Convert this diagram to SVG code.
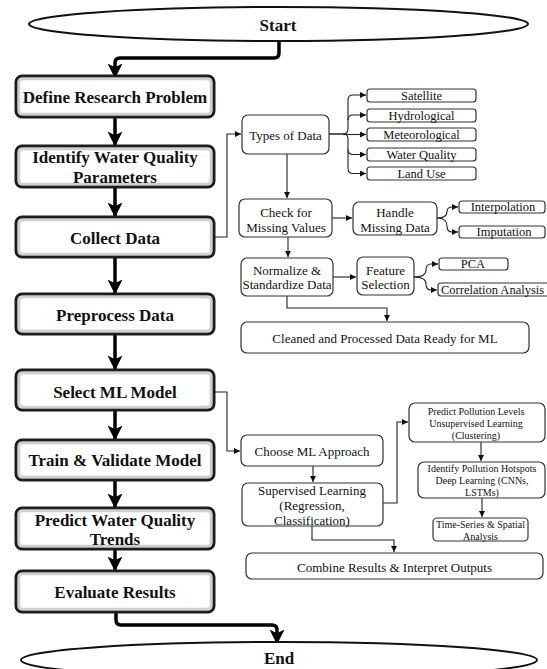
<svg xmlns="http://www.w3.org/2000/svg" width="547" height="669" viewBox="0 0 547 669">
<style>
.main rect.o{fill:#fff;stroke:#1e1e1e;stroke-width:3}
.main rect.i{fill:none;stroke:#cfcfcf;stroke-width:2.5}
.main text{font-family:"Liberation Serif",serif;font-weight:bold;font-size:17px;fill:#111;text-anchor:middle;dominant-baseline:central}
.term ellipse{fill:#fff;stroke:#111;stroke-width:2}
.term text{font-family:"Liberation Serif",serif;font-weight:bold;font-size:17px;fill:#111;text-anchor:middle;dominant-baseline:central}
.sub rect{fill:#fff;stroke:#333;stroke-width:1.2}
.sub text{font-family:"Liberation Serif",serif;font-size:13px;fill:#111;text-anchor:middle;dominant-baseline:central}
.sub text.s{font-size:12.5px}
.sub text.xs{font-size:10px}
.thick{fill:none;stroke:#000;stroke-width:3.5;marker-end:url(#big)}
.thin{fill:none;stroke:#222;stroke-width:1.1;marker-end:url(#sm)}
.thin2{fill:none;stroke:#222;stroke-width:1.1}
</style>
<defs>
<marker id="big" viewBox="0 0 10 10" refX="9" refY="5" markerWidth="15" markerHeight="15" markerUnits="userSpaceOnUse" orient="auto">
<path d="M0,0 L10,5 L0,10 L2.5,5 z" fill="#000"/>
</marker>
<marker id="sm" viewBox="0 0 10 10" refX="10" refY="5" markerWidth="6" markerHeight="6" markerUnits="userSpaceOnUse" orient="auto">
<path d="M0,0 L10,5 L0,10 z" fill="#111"/>
</marker>
</defs>

<g id="connectors">
<path class="thick" d="M279,41 V53 Q279,58 274,58 H120 Q115,58 115,63 V77"/>
<path class="thick" d="M115,117 V145"/>
<path class="thick" d="M115,187 V216"/>
<path class="thick" d="M115,257 V293"/>
<path class="thick" d="M115,334 V369"/>
<path class="thick" d="M115,410 V439"/>
<path class="thick" d="M115,480 V507"/>
<path class="thick" d="M115,549 V570"/>
<path class="thick" d="M116,612 V620 Q116,625 121,625 H272 Q277,625 277,630 V643"/>

<path class="thin" d="M215,237 H227 V134 H241"/>
<path class="thin" d="M329,134 H343 Q348,134 348,129 V100 Q348,95 353,95 H366"/>
<path class="thin" d="M348,120 Q348,115 353,115 H366"/>
<path class="thin" d="M343,134.5 H366"/>
<path class="thin" d="M329,134 H343 Q348,134 348,139 V168.5 Q348,173.5 353,173.5 H366"/>
<path class="thin" d="M348,149.5 Q348,154.5 353,154.5 H366"/>
<path class="thin" d="M287,154 V198"/>
<path class="thin" d="M332,218 H352"/>
<path class="thin" d="M437,218 Q447,218 447,212 Q447,207 452,207 H458"/>
<path class="thin" d="M437,218 Q447,218 447,226 Q447,232 452,232 H458"/>
<path class="thin" d="M288,237 V257"/>
<path class="thin" d="M333,277 H356"/>
<path class="thin" d="M414,277 Q426,277 426,270 Q426,264 431,264 H438"/>
<path class="thin" d="M414,277 Q426,277 426,284 Q426,290 431,290 H437"/>
<path class="thin" d="M287,296 V308 H387 V321"/>
<path class="thin" d="M215,392 H227 V451 H240"/>
<path class="thin" d="M313,466 V482"/>
<path class="thin" d="M383,503 H397 V422 H408"/>
<path class="thin" d="M481,442 V461"/>
<path class="thin" d="M482,498 V517"/>
<path class="thin" d="M312,526 V540 H394 V552"/>
</g>

<g id="start" class="term"><ellipse cx="278.5" cy="24" rx="249.5" ry="17"/><text x="278" y="25">Start</text></g>
<g id="end" class="term"><ellipse cx="279" cy="660" rx="258" ry="18"/><text x="279" y="658">End</text></g>

<g id="define" class="main"><rect class="o" x="16" y="76" width="198" height="41" rx="6"/><rect class="i" x="19" y="79" width="192" height="35" rx="4"/><text x="115" y="97">Define Research Problem</text></g>
<g id="identify" class="main"><rect class="o" x="16" y="146" width="198" height="41" rx="6"/><rect class="i" x="19" y="149" width="192" height="35" rx="4"/><text x="115" y="157">Identify Water Quality</text><text x="115" y="177">Parameters</text></g>
<g id="collect" class="main"><rect class="o" x="16" y="217" width="198" height="40" rx="6"/><rect class="i" x="19" y="220" width="192" height="34" rx="4"/><text x="115" y="238">Collect Data</text></g>
<g id="preprocess" class="main"><rect class="o" x="16" y="294" width="198" height="40" rx="6"/><rect class="i" x="19" y="297" width="192" height="34" rx="4"/><text x="115" y="315">Preprocess Data</text></g>
<g id="select" class="main"><rect class="o" x="16" y="370" width="198" height="40" rx="6"/><rect class="i" x="19" y="373" width="192" height="34" rx="4"/><text x="115" y="392">Select ML Model</text></g>
<g id="train" class="main"><rect class="o" x="16" y="440" width="198" height="40" rx="6"/><rect class="i" x="19" y="443" width="192" height="34" rx="4"/><text x="115" y="460">Train &amp; Validate Model</text></g>
<g id="predict" class="main"><rect class="o" x="16" y="508" width="198" height="41" rx="6"/><rect class="i" x="19" y="511" width="192" height="35" rx="4"/><text x="115" y="520">Predict Water Quality</text><text x="115" y="539">Trends</text></g>
<g id="evaluate" class="main"><rect class="o" x="16" y="571" width="198" height="41" rx="6"/><rect class="i" x="19" y="574" width="192" height="35" rx="4"/><text x="115" y="592">Evaluate Results</text></g>

<g id="types" class="sub"><rect x="242" y="115" width="87" height="39" rx="6"/><text x="285.5" y="135">Types of Data</text></g>
<g id="satellite" class="sub"><rect x="367" y="89" width="109" height="13" rx="3"/><text class="s" x="421.5" y="95.5">Satellite</text></g>
<g id="hydro" class="sub"><rect x="367" y="109" width="109" height="13" rx="3"/><text class="s" x="421.5" y="115.5">Hydrological</text></g>
<g id="meteo" class="sub"><rect x="367" y="128" width="109" height="13" rx="3"/><text class="s" x="421.5" y="134.5">Meteorological</text></g>
<g id="wq" class="sub"><rect x="367" y="148" width="109" height="13" rx="3"/><text class="s" x="421.5" y="154.5">Water Quality</text></g>
<g id="landuse" class="sub"><rect x="367" y="167" width="109" height="13" rx="3"/><text class="s" x="421.5" y="173.5">Land Use</text></g>

<g id="check" class="sub"><rect x="239" y="199" width="93" height="38" rx="6"/><text x="286" y="212">Check for</text><text x="286" y="227">Missing Values</text></g>
<g id="handle" class="sub"><rect x="353" y="202" width="84" height="33" rx="6"/><text x="395" y="212">Handle</text><text x="395" y="227">Missing Data</text></g>
<g id="interp" class="sub"><rect x="459" y="201" width="86" height="12" rx="3"/><text class="s" x="503" y="207">Interpolation</text></g>
<g id="imput" class="sub"><rect x="459" y="226" width="86" height="12" rx="3"/><text class="s" x="504" y="232">Imputation</text></g>

<g id="normalize" class="sub"><rect x="241" y="258" width="92" height="38" rx="6"/><text x="287" y="270">Normalize &amp;</text><text x="287" y="284">Standardize Data</text></g>
<g id="feature" class="sub"><rect x="357" y="257" width="57" height="38" rx="6"/><text x="385.5" y="270">Feature</text><text x="385.5" y="284">Selection</text></g>
<g id="pca" class="sub"><rect x="439" y="258" width="69" height="12" rx="3"/><text class="s" x="473" y="264">PCA</text></g>
<g id="corr" class="sub"><rect x="438" y="283" width="120" height="13" rx="3"/><text class="s" x="441" y="290" style="text-anchor:start">Correlation Analysis</text></g>

<g id="cleaned" class="sub"><rect x="241" y="322" width="288" height="31" rx="6"/><text x="385" y="338">Cleaned and Processed Data Ready for ML</text></g>

<g id="choose" class="sub"><rect x="241" y="435" width="142" height="31" rx="6"/><text x="312" y="451">Choose ML Approach</text></g>
<g id="supervised" class="sub"><rect x="242" y="483" width="141" height="43" rx="6"/><text x="312" y="490">Supervised Learning</text><text x="312" y="505">(Regression,</text><text x="312" y="520">Classification)</text></g>
<g id="predpoll" class="sub"><rect x="409" y="403" width="136" height="39" rx="6"/><text class="xs" x="476" y="411">Predict Pollution Levels</text><text class="xs" x="476" y="423">Unsupervised Learning</text><text class="xs" x="476" y="435">(Clustering)</text></g>
<g id="hotspots" class="sub"><rect x="418" y="462" width="127" height="36" rx="6"/><text class="xs" x="482" y="468">Identify Pollution Hotspots</text><text class="xs" x="482" y="480">Deep Learning (CNNs,</text><text class="xs" x="482" y="492">LSTMs)</text></g>
<g id="timeseries" class="sub"><rect x="433" y="518" width="95" height="23" rx="4"/><text class="xs" x="480.5" y="524">Time-Series &amp; Spatial</text><text class="xs" x="480.5" y="536">Analysis</text></g>
<g id="combine" class="sub"><rect x="246" y="553" width="297" height="26" rx="6"/><text x="394.5" y="567">Combine Results &amp; Interpret Outputs</text></g>
</svg>
